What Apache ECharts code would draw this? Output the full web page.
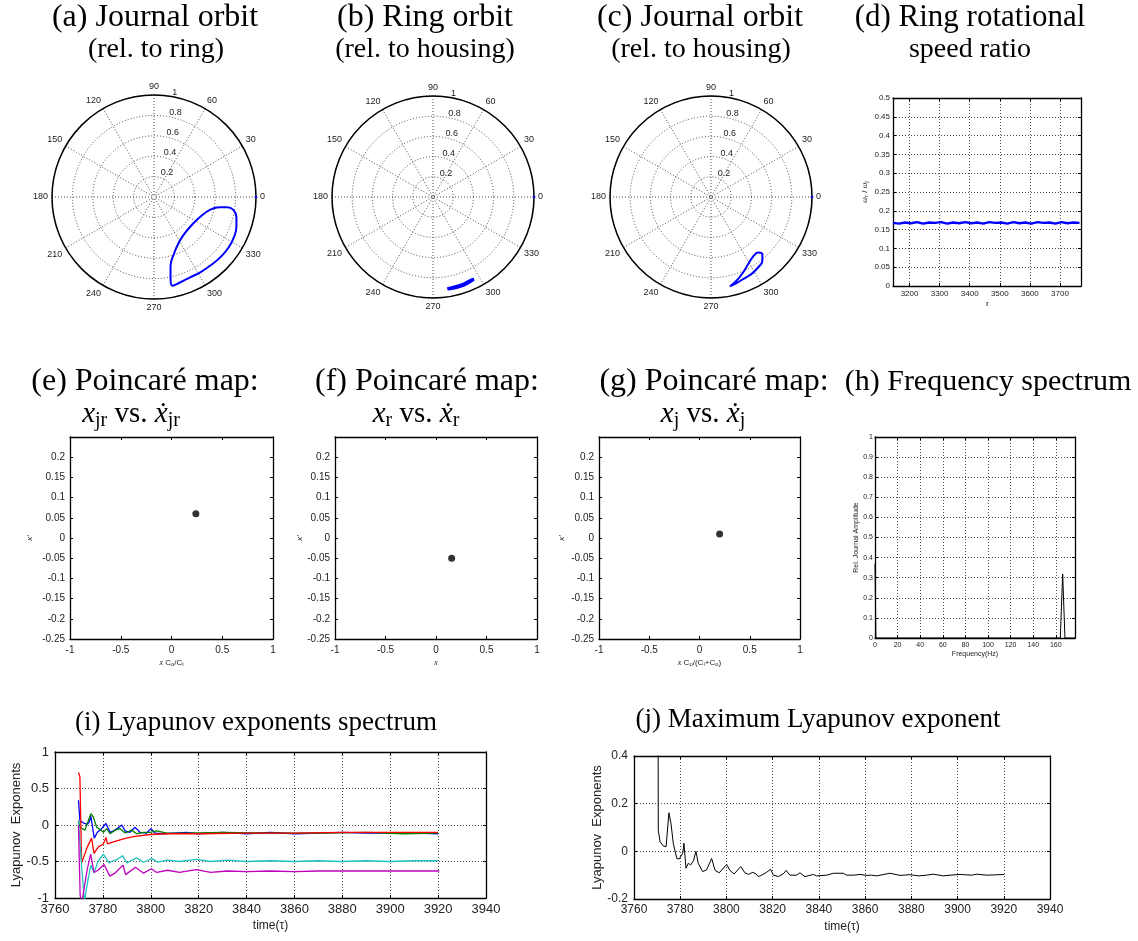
<!DOCTYPE html>
<html><head><meta charset="utf-8">
<script src="https://cdn.jsdelivr.net/npm/echarts@6/dist/echarts.min.js"></script>
<style>html,body{margin:0;padding:0;background:#fff}#c{width:1138px;height:941px}</style>
</head><body><div id="c"></div>
<script>
// ---------------- data ----------------
// polar orbits: [radius, angle(deg)]
const orbitA = [[0.660,351.3],[0.596,349.4],[0.539,344.7],[0.484,334.5],[0.459,320.6],[0.472,307.6],[0.515,297.6],[0.590,289.4],[0.691,283.6],[0.805,281.6],[0.890,281.8],[0.876,286.9],[0.864,294.2],[0.867,301.6],[0.870,309.4],[0.879,317.9],[0.883,326.3],[0.877,333.5],[0.859,340.2],[0.830,346.6],[0.788,350.8],[0.725,352.1],[0.660,351.3]];
const orbitB = [[0.922,278.9],[0.926,282.4],[0.926,286.6],[0.922,291.0],[0.909,296.4],[0.905,295.0],[0.912,290.0],[0.915,285.0],[0.918,280.0],[0.922,278.9]];
const orbitC = [[0.905,281.9],[0.867,286.9],[0.812,293.0],[0.760,298.9],[0.722,305.2],[0.721,310.2],[0.762,311.9],[0.812,308.8],[0.839,303.7],[0.862,297.6],[0.873,291.4],[0.889,286.5],[0.905,281.9]];
const polarMark = [[1,0]];
const radiusTicks = [0.2,0.4,0.6,0.8,1];

// (d) ring rotational speed ratio
const dTau = [3145,3165,3185,3205,3225,3245,3265,3285,3305,3325,3345,3365,3385,3405,3425,3445,3465,3485,3505,3525,3545,3565,3585,3605,3625,3645,3665,3685,3705,3725,3745,3765];
const dRatio = [0.168,0.166,0.169,0.167,0.170,0.166,0.169,0.168,0.170,0.166,0.169,0.167,0.170,0.167,0.169,0.166,0.170,0.168,0.169,0.166,0.170,0.167,0.169,0.166,0.170,0.168,0.169,0.166,0.170,0.167,0.169,0.168];

// Poincare maps
const poincE = [[0.24,0.06]];
const poincF = [[0.155,-0.05]];
const poincG = [[0.20,0.01]];

// (h) frequency spectrum
const hFreq = [0,0.8,164.0,166.1,168.1,177];
const hAmp = [0.37,0,0,0.318,0,0];

// (i) Lyapunov exponents spectrum [tau, value]
const lyBlue = [[3769.8,0.34],[3770.4,0.06],[3771.8,0.03],[3773.5,0.01],[3774.3,0.04],[3774.9,0.13],[3776.4,-0.18],[3777.7,-0.10],[3779.5,-0.05],[3781.3,0.02],[3783.0,-0.10],[3785.1,-0.07],[3787.9,0.00],[3789.3,-0.08],[3791.3,-0.10],[3793.4,-0.03],[3795.5,-0.10],[3798.3,-0.11],[3800.0,-0.05],[3801.8,-0.11],[3805.3,-0.12],[3809.5,-0.11],[3815,-0.10],[3820,-0.12],[3830,-0.10],[3840,-0.12],[3850,-0.10],[3860,-0.12],[3870,-0.11],[3880,-0.10],[3890,-0.11],[3900,-0.11],[3910,-0.11],[3920,-0.12]];
const lyGreen = [[3769.8,0.06],[3770.4,-0.03],[3772.5,-0.07],[3773.5,0.02],[3775.0,0.156],[3776.0,0.11],[3777.4,-0.03],[3778.8,-0.06],[3780.2,-0.10],[3781.6,-0.05],[3783.0,-0.12],[3785.1,-0.07],[3787.2,-0.05],[3789.3,-0.11],[3792.0,-0.07],[3794.1,-0.12],[3796.9,-0.10],[3799.7,-0.10],[3802.5,-0.08],[3806.7,-0.11],[3815,-0.11],[3830,-0.10],[3850,-0.11],[3870,-0.11],[3890,-0.10],[3905,-0.12],[3920,-0.11]];
const lyRed = [[3769.8,0.72],[3770.4,0.66],[3771.1,-0.52],[3771.8,-0.51],[3773.5,-0.30],[3775.3,-0.18],[3776.3,-0.39],[3778.1,-0.30],[3780.2,-0.26],[3781.3,-0.17],[3781.9,-0.26],[3784.4,-0.23],[3788.6,-0.19],[3792.7,-0.16],[3799.7,-0.13],[3806.7,-0.12],[3820,-0.12],[3840,-0.11],[3860,-0.11],[3880,-0.10],[3900,-0.10],[3920,-0.10]];
const lyCyan = [[3769.8,0.05],[3771.2,-0.6],[3772.3,-1.05],[3773.5,-0.8],[3775.0,-0.55],[3776.3,-0.65],[3778.0,-0.50],[3780.2,-0.40],[3782.5,-0.52],[3783.5,-0.50],[3786.0,-0.47],[3788.2,-0.42],[3790.0,-0.52],[3794.0,-0.45],[3797.0,-0.51],[3800.5,-0.46],[3803.0,-0.51],[3807.0,-0.48],[3812,-0.50],[3819,-0.47],[3825,-0.50],[3832,-0.48],[3840,-0.50],[3850,-0.49],[3860,-0.50],[3870,-0.49],[3880,-0.50],[3890,-0.49],[3900,-0.50],[3910,-0.49],[3920,-0.49]];
const lyMagenta = [[3769.8,0.0],[3770.5,-0.95],[3771.0,-1.1],[3772.0,-0.9],[3773.5,-0.6],[3774.9,-0.4],[3776.3,-0.65],[3778.0,-0.62],[3780.5,-0.54],[3782.9,-0.70],[3785.0,-0.66],[3788.4,-0.55],[3789.5,-0.68],[3793.6,-0.58],[3797.0,-0.66],[3800.2,-0.60],[3802.5,-0.65],[3807,-0.62],[3812,-0.65],[3819,-0.61],[3825,-0.65],[3832,-0.63],[3840,-0.64],[3850,-0.63],[3860,-0.64],[3870,-0.63],[3880,-0.63],[3900,-0.63],[3920.5,-0.63]];

// (j) maximum Lyapunov exponent
const lyMax = [[3770.4,0.8],[3770.5,0.089],[3771.3,0.04],[3772.7,0.022],[3773.9,0.02],[3775.1,0.162],[3776.0,0.117],[3777.0,0.033],[3778.5,-0.03],[3779.6,-0.032],[3781.1,-0.008],[3781.6,0.034],[3782.5,-0.071],[3783.5,-0.05],[3784.5,-0.057],[3785.7,-0.04],[3786.8,0.0],[3787.8,-0.05],[3789.7,-0.085],[3791.4,-0.078],[3793.6,-0.03],[3795.1,-0.08],[3796.9,-0.09],[3798.7,-0.07],[3800.1,-0.055],[3801.5,-0.08],[3803.3,-0.095],[3806.2,-0.064],[3808.0,-0.09],[3809.5,-0.097],[3811.4,-0.088],[3812.8,-0.095],[3813.8,-0.106],[3815.2,-0.1],[3817.4,-0.088],[3819.1,-0.075],[3820.3,-0.1],[3822.5,-0.106],[3824.9,-0.092],[3825.8,-0.08],[3827.5,-0.1],[3830.4,-0.1],[3831.8,-0.09],[3834.0,-0.106],[3837.6,-0.097],[3839.0,-0.103],[3843.4,-0.1],[3846.3,-0.092],[3850.6,-0.092],[3852.0,-0.1],[3854.9,-0.1],[3857.8,-0.097],[3860.7,-0.101],[3862.8,-0.1],[3865.0,-0.103],[3868.6,-0.096],[3870.8,-0.092],[3875.1,-0.101],[3879.4,-0.098],[3883.0,-0.103],[3886.6,-0.1],[3889.5,-0.096],[3893.9,-0.103],[3896.7,-0.1],[3901.1,-0.097],[3906.1,-0.1],[3908.3,-0.096],[3912.6,-0.1],[3915.5,-0.099],[3920.2,-0.097]];

// ---------------- chart ----------------
const SANS = 'Liberation Sans, Arial, sans-serif';
const SERIF = 'Liberation Serif, Times New Roman, serif';
const TFS = 32;   // first title line
const TFS2 = 28;  // second title line
const gridLine = {color:'#000', width:0.7, type:[1,2]};
const plain = v => String(v);

const polars = [], angleAxes = [], radiusAxes = [], series = [];
function addPolar(cx, cy, R, data) {
  const pi = polars.length;
  polars.push({center:[cx,cy], radius:R});
  polars.push({center:[cx,cy], radius:R});
  angleAxes.push({polarIndex:pi, type:'value', min:0, max:360, interval:30, startAngle:0, clockwise:false,
    axisLine:{lineStyle:{color:'#000', width:1.5}}, axisTick:{show:false},
    axisLabel:{margin:4, fontSize:9, color:'#222', fontFamily:SANS, formatter:v => v===360 ? '' : String(v)},
    splitLine:{lineStyle:{color:'#222', width:0.8, type:[1,2]}}});
  angleAxes.push({polarIndex:pi+1, type:'value', min:0, max:360, startAngle:82, clockwise:false, show:false});
  radiusAxes.push({polarIndex:pi, type:'value', min:0, max:1, interval:0.2,
    axisLine:{show:false}, axisTick:{show:false}, axisLabel:{show:false},
    splitLine:{lineStyle:{color:'#222', width:0.8, type:[1,2]}}});
  radiusAxes.push({polarIndex:pi+1, type:'value', min:0, max:1, interval:0.2,
    axisLine:{show:false}, axisTick:{show:false}, splitLine:{show:false},
    axisLabel:{fontSize:9, color:'#222', fontFamily:SANS, margin:-4, align:'left', verticalAlign:'bottom',
      formatter:v => radiusTicks.indexOf(v) >= 0 ? String(v) : ''}});
  series.push({type:'line', coordinateSystem:'polar', polarIndex:pi, data:data, smooth:0.4, showSymbol:false,
    lineStyle:{color:'#0000ff', width:2}, z:5});
  series.push({type:'scatter', coordinateSystem:'polar', polarIndex:pi, data:polarMark, symbolSize:3,
    itemStyle:{color:'#0000ff'}});
}
addPolar(154, 197, 102, orbitA);
addPolar(433, 197, 101, orbitB);
addPolar(711, 197, 101, orbitC);
series[2].lineStyle.width = 3;

const grids = [], xAxes = [], yAxes = [];
function cart(box, x, y) {
  const gi = grids.length;
  grids.push({left:box[0], top:box[1], width:box[2], height:box[3], containLabel:false});
  const xi = xAxes.length, yi = yAxes.length;
  const common = o => ({gridIndex:gi, type:'value', min:o.min, max:o.max, interval:o.interval, splitNumber:o.splitNumber,
    axisLine:{onZero:false, lineStyle:{color:'#000', width:1.3}},
    axisTick:{inside:true, length:3, lineStyle:{color:'#000', width:1}}});
  xAxes.push(Object.assign(common(x), {position:'bottom',
    axisLabel:{fontSize:x.fs, color:'#222', margin:x.margin, fontFamily:SANS, showMaxLabel:x.showMax, showMinLabel:x.showMin, formatter:plain},
    splitLine:{show:!!x.grid, lineStyle:gridLine},
    name:x.name, nameLocation:'middle', nameGap:x.gap,
    nameTextStyle:Object.assign({fontSize:x.nfs, color:'#222', fontFamily:SANS}, x.nstyle || {})}));
  xAxes.push(Object.assign(common(x), {position:'top', axisLabel:{show:false}, splitLine:{show:false}}));
  yAxes.push(Object.assign(common(y), {position:'left',
    axisLabel:{fontSize:y.fs, color:'#222', margin:y.margin, fontFamily:SANS, showMaxLabel:y.showMax, showMinLabel:y.showMin, formatter:plain},
    splitLine:{show:!!y.grid, lineStyle:gridLine},
    name:y.name, nameLocation:'middle', nameGap:y.gap, nameRotate:90,
    nameTextStyle:Object.assign({fontSize:y.nfs, color:'#222', fontFamily:SANS}, y.nstyle || {})}));
  yAxes.push(Object.assign(common(y), {position:'right', axisLabel:{show:false}, splitLine:{show:false}}));
  return {xAxisIndex:xi, yAxisIndex:yi};
}
const subRich = fs => ({
  i:{fontStyle:'italic', fontSize:fs, fontFamily:SERIF, color:'#222'},
  n:{fontSize:fs, fontFamily:SANS, color:'#222'},
  s:{fontSize:Math.round(fs*0.7), fontFamily:SANS, color:'#222', verticalAlign:'bottom', lineHeight:fs*0.9}
});

// (d)
const axD = cart([893,98,188,188],
  {min:3145, max:3770, splitNumber:6, fs:8, margin:4, grid:true, showMax:false, showMin:false,
   name:'τ', gap:13, nfs:9, nstyle:{fontStyle:'italic', fontFamily:SERIF}},
  {min:0, max:0.5, interval:0.05, fs:8, margin:3, grid:true,
   name:'{i|ω}{s|r}{n| / }{i|ω}{s|j}', gap:24, nfs:8, nstyle:{rich:subRich(8)}});
series.push(Object.assign({type:'line', data:dTau.map((t,k) => [t, dRatio[k]]), showSymbol:false,
  lineStyle:{color:'#0000ff', width:2.4}}, axD));

// (e),(f),(g)
function poinc(box, pts, xname, gapY) {
  const ax = cart(box,
    {min:-1, max:1, interval:0.5, fs:10, margin:6, name:xname, gap:20, nfs:8, nstyle:{rich:subRich(8)}},
    {min:-0.25, max:0.25, interval:0.05, fs:10, margin:5, showMax:false, name:"x'", gap:gapY, nfs:8, nstyle:{fontStyle:'italic'}});
  series.push(Object.assign({type:'scatter', data:pts, symbolSize:7, itemStyle:{color:'#000'}}, ax));
}
poinc([70,437,203,202], poincE, '{i|x} C{s|o}/C{s|i}', 36);
poinc([335,437,202,202], poincF, '{i|x}', 31);
poinc([599,437,201,202], poincG, '{i|x} C{s|o}/(C{s|i}+C{s|o})', 33);

// (h)
const axH = cart([875,437,200,201],
  {min:0, max:177, interval:20, fs:7, margin:4, grid:true, showMax:false, name:'Frequency(Hz)', gap:13, nfs:7},
  {min:0, max:1, interval:0.1, fs:7, margin:2, grid:true, name:'Rel. Journal Amplitude', gap:10, nfs:7});
series.push(Object.assign({type:'line', data:hFreq.map((f,k) => [f, hAmp[k]]), showSymbol:false,
  lineStyle:{color:'#000', width:1}}, axH));

// (i)
const axI = cart([55,752,431,146],
  {min:3760, max:3940, interval:20, fs:13, margin:5, grid:true, name:'time(τ)', gap:22, nfs:12},
  {min:-1, max:1, interval:0.5, fs:13, margin:6, grid:true, name:'Lyapunov  Exponents', gap:30, nfs:13});
[[lyBlue,'#0000ff'],[lyGreen,'#008000'],[lyRed,'#ff0000'],[lyCyan,'#20c0c0'],[lyMagenta,'#c000c0']].forEach(([d,c]) => {
  series.push(Object.assign({type:'line', data:d, showSymbol:false, lineStyle:{color:c, width:1.3}}, axI));
});

// (j)
const axJ = cart([634,756,416,143],
  {min:3760, max:3940, interval:20, fs:12, margin:5, grid:true, name:'time(τ)', gap:22, nfs:12},
  {min:-0.2, max:0.4, interval:0.2, fs:12, margin:6, grid:true, name:'Lyapunov  Exponents', gap:28, nfs:13});
series.push(Object.assign({type:'line', data:lyMax, showSymbol:false, lineStyle:{color:'#000', width:1}}, axJ));

// titles
function ttl(x, y, text, fs, rich) {
  return {type:'text', x:x, y:y, z:100, style:{text:text, fontSize:fs, fontFamily:SERIF, fill:'#000',
    align:'center', verticalAlign:'middle', rich:rich}};
}
const tRich = {
  i:{fontStyle:'italic', fontSize:29, fontFamily:SERIF, fill:'#000', lineHeight:34},
  n:{fontSize:29, fontFamily:SERIF, fill:'#000', lineHeight:34},
  s:{fontSize:20, fontFamily:SERIF, fill:'#000', verticalAlign:'bottom', lineHeight:20}
};
const graphics = [
  ttl(155, 18, '(a) Journal orbit', TFS), ttl(156, 50, '(rel. to ring)', TFS2),
  ttl(425, 18, '(b) Ring orbit', TFS), ttl(425, 50, '(rel. to housing)', TFS2),
  ttl(700, 18, '(c) Journal orbit', TFS), ttl(701, 50, '(rel. to housing)', TFS2),
  ttl(970, 18, '(d) Ring rotational', 31), ttl(970, 50, 'speed ratio', TFS2),
  ttl(145, 382, '(e) Poincaré map:', TFS),
  ttl(131, 414, '{i|x}{s|jr}{n| vs. }{i|ẋ}{s|jr}', 29, tRich),
  ttl(427, 382, '(f) Poincaré map:', TFS),
  ttl(416, 414, '{i|x}{s|r}{n| vs. }{i|ẋ}{s|r}', 29, tRich),
  ttl(714, 382, '(g) Poincaré map:', TFS),
  ttl(703, 414, '{i|x}{s|j}{n| vs. }{i|ẋ}{s|j}', 29, tRich),
  ttl(988, 382, '(h) Frequency spectrum', 30),
  ttl(256, 723, '(i) Lyapunov exponents spectrum', 27),
  ttl(818, 720, '(j) Maximum Lyapunov exponent', 27)
];

const chart = echarts.init(document.getElementById('c'), null, {renderer:'canvas'});
chart.setOption({
  animation:false,
  backgroundColor:'#fff',
  polar:polars, angleAxis:angleAxes, radiusAxis:radiusAxes,
  grid:grids, xAxis:xAxes, yAxis:yAxes,
  series:series,
  graphic:graphics
});
</script></body></html>
